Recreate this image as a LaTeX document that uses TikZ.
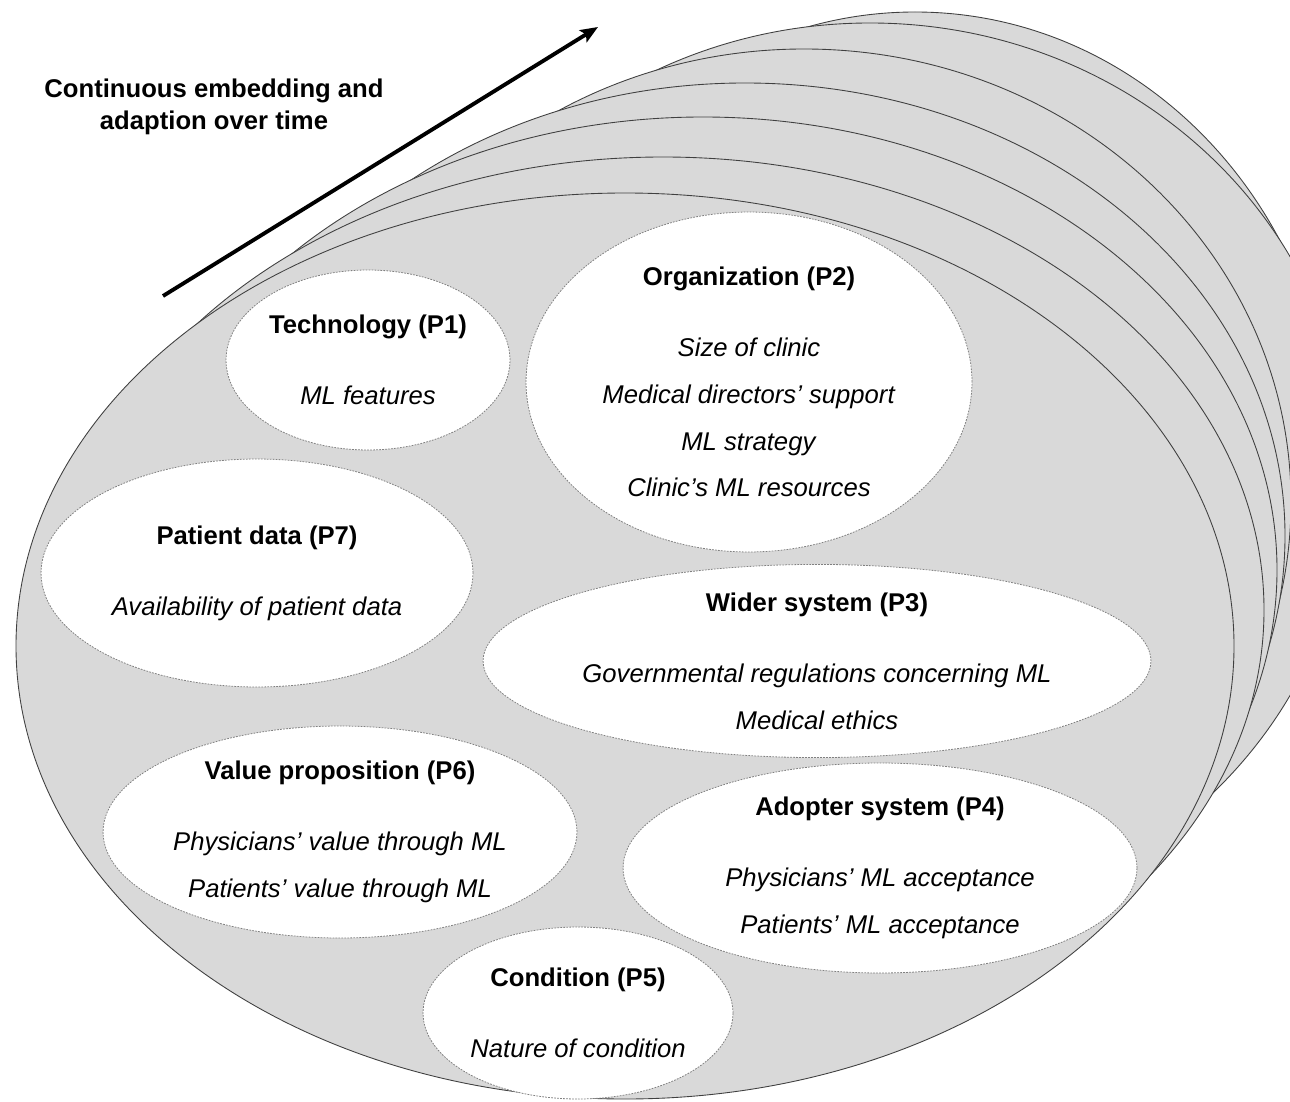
\documentclass[tikz,border=0pt]{standalone}
\usepackage{fontspec}
\setmainfont{Liberation Sans}
\usetikzlibrary{shapes.geometric,arrows.meta}
\definecolor{stackgray}{RGB}{217,217,217}
\definecolor{rimgray}{RGB}{64,64,64}

\begin{document}
\begin{tikzpicture}[x=0.02cm, y=-0.02cm, font=\fontsize{14.6}{17.5}\selectfont,
  stack/.style = {draw=rimgray, fill=stackgray, line width=0.5pt},
  part/.style = {ellipse, draw=gray, fill=white, dash pattern=on 1pt off 0.7pt, line width=0.45pt, inner sep=0pt, align=center},
  head/.style = {font=\fontsize{14.6}{18.1}\selectfont\bfseries, align=center}]
\useasboundingbox (0,0) rectangle (1290,1101);
\clip (0,0) rectangle (1290,1101);

\draw[stack] (915,465) ellipse [x radius=420, y radius=453];
\draw[stack] (870,476) ellipse [x radius=480, y radius=453];
\draw[stack] (804,502) ellipse [x radius=487, y radius=453];
\draw[stack] (745,536) ellipse [x radius=540, y radius=453];
\draw[stack] (703,570) ellipse [x radius=574, y radius=453];
\draw[stack] (663,610) ellipse [x radius=601, y radius=453];
\draw[stack] (625,646) ellipse [x radius=609, y radius=453];

\node[part, minimum width=5.68cm, minimum height=3.6cm] (P1) at (368,360) {\textbf{Technology (P1)}\\[23pt] \textit{ML features}};
\node[part, minimum width=8.92cm, minimum height=6.8cm] (P2) at (749,382) {\textbf{Organization (P2)}\\[23pt] \textit{Size of clinic}\\[9pt] \textit{Medical directors’ support}\\[9pt] \textit{ML strategy}\\[9pt] \textit{Clinic’s ML resources}};
\node[part, minimum width=8.64cm, minimum height=4.56cm] (P7) at (257,573) {\textbf{Patient data (P7)}\\[23pt] \textit{Availability of patient data}};
\node[part, minimum width=13.36cm, minimum height=3.52cm] (P3) at (817,661) {\textbf{Wider system (P3)}\\[23pt] \textit{Governmental regulations concerning ML}\\[9pt] \textit{Medical ethics}};
\node[part, minimum width=9.48cm, minimum height=4.24cm] (P6) at (340,832) {\textbf{Value proposition (P6)}\\[23pt] \textit{Physicians’ value through ML}\\[9pt] \textit{Patients’ value through ML}};
\node[part, minimum width=10.28cm, minimum height=4.2cm] (P4) at (880,868) {\textbf{Adopter system (P4)}\\[23pt] \textit{Physicians’ ML acceptance}\\[9pt] \textit{Patients’ ML acceptance}};
\node[part, minimum width=6.2cm, minimum height=3.44cm] (P5) at (578,1013) {\textbf{Condition (P5)}\\[23pt] \textit{Nature of condition}};

\node[head] (T) at (214,107) {Continuous embedding and\\adaption over time};
\coordinate (s) at (163,296);
\coordinate (e) at (598,27);
\draw[line width=2.2pt, -{Stealth[length=10pt, width=8pt, inset=2pt]}] (s) -- (e);

\end{tikzpicture}
\end{document}
